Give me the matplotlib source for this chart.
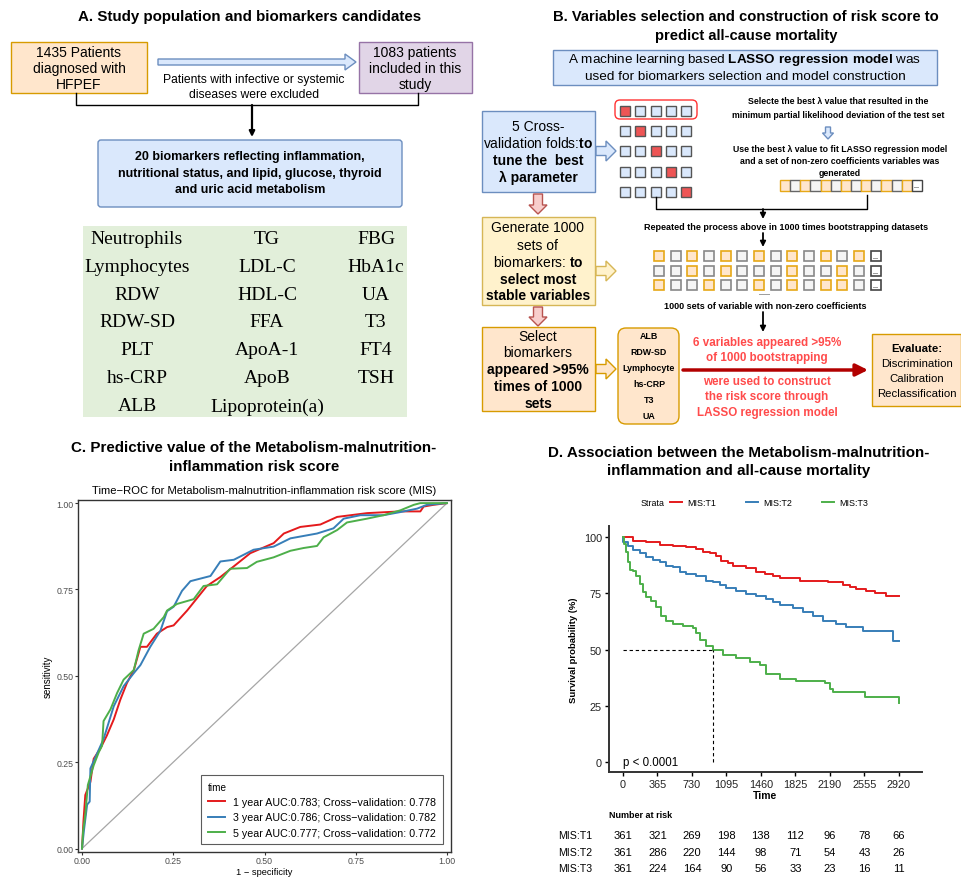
import numpy as np
import matplotlib
matplotlib.use('Agg')
import matplotlib.pyplot as plt
from matplotlib.patches import Rectangle, FancyBboxPatch, FancyArrow
from matplotlib import transforms

plt.rcParams['font.family'] = ['Liberation Sans', 'DejaVu Sans']
plt.rcParams['mathtext.fontset'] = 'custom'
plt.rcParams['mathtext.rm'] = 'Liberation Sans'
plt.rcParams['mathtext.bf'] = 'Liberation Sans:bold'

# ---------------- data ----------------
# panel A: candidate biomarkers, one list per table column
markers_col1 = ['Neutrophils', 'Lymphocytes', 'RDW', 'RDW-SD', 'PLT', 'hs-CRP', 'ALB']
markers_col2 = ['TG', 'LDL-C', 'HDL-C', 'FFA', 'ApoA-1', 'ApoB', 'Lipoprotein(a)']
markers_col3 = ['FBG', 'HbA1c', 'UA', 'T3', 'FT4', 'TSH']

# panel B: selected variables and the illustrative coefficient sets (1 = non-zero)
selected = ['ALB', 'RDW-SD', 'Lymphocyte', 'hs-CRP', 'T3', 'UA']
nonzero_set = [1, 0, 1, 0, 1, 0, 1, 0, 1, 0, 1, 0, 1]
boot_set1 = [1, 0, 1, 0, 1, 0, 1, 0, 1, 0, 1, 0, 1]
boot_set2 = [0, 0, 1, 0, 1, 0, 0, 0, 1, 0, 0, 1, 0]
boot_set3 = [1, 0, 0, 1, 0, 0, 1, 0, 1, 0, 1, 1, 0]

# panel C: time-dependent ROC curves
roc_labels = ['1 year AUC:0.783; Cross\u2212validation: 0.778',
              '3 year AUC:0.786; Cross\u2212validation: 0.782',
              '5 year AUC:0.777; Cross\u2212validation: 0.772']
fpr_1y = [0, 0.004, 0.009, 0.023, 0.032, 0.05, 0.068, 0.087, 0.105, 0.123, 0.142, 0.16, 0.178,
          0.205, 0.233, 0.251, 0.288, 0.342, 0.379, 0.416, 0.461, 0.525, 0.553, 0.598, 0.653,
          0.699, 0.781, 0.872, 0.927, 0.936, 0.963, 1.0]
tpr_1y = [0, 0.08, 0.155, 0.193, 0.26, 0.289, 0.327, 0.374, 0.431, 0.479, 0.517, 0.584, 0.584,
          0.622, 0.641, 0.646, 0.689, 0.76, 0.786, 0.817, 0.855, 0.884, 0.912, 0.931, 0.938,
          0.96, 0.971, 0.976, 0.976, 0.99, 0.995, 1.0]
fpr_3y = [0, 0.005, 0.014, 0.021, 0.023, 0.037, 0.059, 0.087, 0.114, 0.142, 0.16, 0.187, 0.215,
          0.233, 0.251, 0.274, 0.297, 0.352, 0.379, 0.416, 0.47, 0.525, 0.571, 0.644, 0.689,
          0.717, 0.763, 0.826, 0.872, 0.918, 0.945, 1.0]
tpr_3y = [0, 0.05, 0.127, 0.136, 0.232, 0.265, 0.317, 0.412, 0.47, 0.508, 0.531, 0.584, 0.631,
          0.687, 0.70, 0.746, 0.774, 0.789, 0.831, 0.836, 0.865, 0.874, 0.898, 0.912, 0.927,
          0.955, 0.965, 0.965, 0.974, 0.984, 0.995, 1.0]
fpr_5y = [0, 0.003, 0.009, 0.016, 0.032, 0.046, 0.055, 0.059, 0.078, 0.096, 0.114, 0.142, 0.155,
          0.169, 0.196, 0.224, 0.233, 0.26, 0.306, 0.333, 0.37, 0.406, 0.452, 0.479, 0.525,
          0.571, 0.607, 0.644, 0.662, 0.699, 0.726, 0.781, 0.826, 0.872, 0.909, 0.927, 1.0]
tpr_5y = [0, 0.05, 0.098, 0.184, 0.241, 0.279, 0.298, 0.369, 0.403, 0.45, 0.489, 0.517, 0.574,
          0.622, 0.636, 0.67, 0.689, 0.708, 0.722, 0.76, 0.765, 0.81, 0.812, 0.83, 0.843,
          0.862, 0.87, 0.876, 0.901, 0.922, 0.944, 0.955, 0.965, 0.979, 0.995, 1.0, 1.0]

# panel D: Kaplan-Meier curves (days, survival %)
km_labels = ['MIS:T1', 'MIS:T2', 'MIS:T3']
t1_time = [0, 106, 247, 388, 529, 670, 776, 847, 917, 988, 1041, 1111, 1164, 1305, 1411, 1499,
           1587, 1658, 1869, 2169, 2328, 2398, 2469, 2575, 2663, 2786, 2920]
t1_surv = [100, 98.5, 97.8, 96.7, 96.0, 95.5, 94.8, 93.6, 93.0, 91.5, 89.6, 88.6, 87.4, 86.2,
           84.7, 83.7, 82.6, 81.9, 80.7, 79.9, 78.9, 77.7, 77.0, 75.9, 75.0, 74.0, 73.8]
t2_time = [0, 5, 53, 106, 176, 247, 317, 388, 459, 529, 600, 670, 776, 882, 952, 1023, 1093,
           1199, 1305, 1411, 1517, 1587, 1658, 1799, 1905, 2010, 2116, 2257, 2363, 2539, 2857,
           2920]
t2_surv = [100, 97.8, 96.0, 94.5, 93.0, 91.1, 90.0, 88.9, 87.4, 86.6, 84.7, 83.5, 82.6, 80.7,
           79.9, 78.8, 77.3, 75.9, 74.7, 74.0, 72.5, 71.0, 70.0, 68.5, 66.6, 65.1, 62.9, 61.4,
           60.2, 58.1, 53.6, 53.6]
t3_time = [0, 7, 28, 53, 78, 106, 141, 176, 212, 247, 300, 353, 406, 459, 529, 635, 741, 776,
           811, 882, 952, 1058, 1199, 1340, 1446, 1517, 1658, 1834, 2134, 2187, 2222, 2557,
           2910, 2920]
t3_surv = [100, 97.0, 93.3, 88.9, 85.6, 85.1, 82.9, 79.2, 75.5, 73.3, 71.8, 68.8, 65.1, 62.9,
           61.4, 60.3, 59.4, 57.4, 54.4, 51.7, 49.9, 47.7, 46.1, 44.3, 43.1, 39.1, 37.1, 35.8,
           35.1, 32.4, 30.9, 29.0, 29.0, 26.4]
risk_times = [0, 365, 730, 1095, 1460, 1825, 2190, 2555, 2920]
risk_t1 = [361, 321, 269, 198, 138, 112, 96, 78, 66]
risk_t2 = [361, 286, 220, 144, 98, 71, 54, 43, 26]
risk_t3 = [361, 224, 164, 90, 56, 33, 23, 16, 11]

# ---------------- colours ----------------
BLUE_FC, BLUE_EC = '#DAE8FC', '#6C8EBF'
ORA_FC, ORA_EC = '#FFE6CC', '#D79B00'
YEL_FC, YEL_EC = '#FFF2CC', '#D6B656'
PUR_FC, PUR_EC = '#E1D5E7', '#9673A6'
PINK_FC, PINK_EC = '#F8CECC', '#B85450'
RED_TXT = '#FF4B4B'
set1 = ['#E41A1C', '#377EB8', '#4DAF4A']

fig = plt.figure(figsize=(9.62, 8.79), dpi=100)

# background axes in pixel units for the two diagrams
bg = fig.add_axes([0, 0, 1, 1])
bg.set_xlim(0, 962)
bg.set_ylim(879, 0)
bg.axis('off')


def box(x0, y0, x1, y1, fc, ec, rounding=0, lw=1.0):
    if rounding:
        p = FancyBboxPatch((x0, y0), x1 - x0, y1 - y0,
                           boxstyle='round,pad=0,rounding_size=%g' % rounding,
                           fc=fc, ec=ec, lw=lw)
    else:
        p = Rectangle((x0, y0), x1 - x0, y1 - y0, fc=fc, ec=ec, lw=lw)
    bg.add_patch(p)


def lines(x, ys, texts, size, bold=None, color='black', **kw):
    for i, (y, t) in enumerate(zip(ys, texts)):
        w = 'bold' if (bold is not None and bold[i]) else 'normal'
        bg.text(x, y, t, ha='center', va='center', fontsize=size, fontweight=w, color=color, **kw)


def hollow(x, y, dx, dy, fc, ec, w=9, hw=20, hl=10):
    bg.add_patch(FancyArrow(x, y, dx, dy, width=w, head_width=hw, head_length=hl,
                            length_includes_head=True, fc=fc, ec=ec, lw=1))


def arrow(x0, y0, x1, y1, color='black', lw=1.3, ms=8):
    bg.annotate('', xy=(x1, y1), xytext=(x0, y0),
                arrowprops=dict(arrowstyle='-|>', color=color, lw=lw, mutation_scale=ms,
                                shrinkA=0, shrinkB=0))


# ================= Panel A =================
bg.text(250, 17, 'A. Study population and biomarkers candidates', ha='center', va='center',
        fontsize=10.9, fontweight='bold')
box(11, 43, 147, 94, ORA_FC, ORA_EC)
lines(79, [53, 69, 85], ['1435 Patients', 'diagnosed with', 'HFPEF'], 10)
box(359, 43, 472, 94, PUR_FC, PUR_EC)
lines(415, [53, 69, 85], ['1083 patients', 'included in this', 'study'], 10)
hollow(158, 63, 198, 0, BLUE_FC, BLUE_EC, w=6, hw=16, hl=11)
lines(254, [80, 95], ['Patients with infective or systemic', 'diseases were excluded'], 8.7)
bg.plot([76, 76, 418, 418], [94, 106, 106, 94], color='black', lw=1)
arrow(252, 106, 252, 138, lw=1.6)
box(98, 141, 402, 208, BLUE_FC, BLUE_EC, rounding=3)
lines(250, [157, 174, 190],
      ['20 biomarkers reflecting inflammation,',
       'nutritional status, and lipid, glucose, thyroid',
       'and uric acid metabolism'], 9, bold=[1, 1, 1])

box(83, 227, 407, 418, '#E2EFDA', 'none')
row_y = [240, 268, 296, 323, 351, 379, 407]
for cx, col in zip([137, 267, 376], [markers_col1, markers_col2, markers_col3]):
    for y, name in zip(row_y, col):
        bg.text(cx, y, name, ha='center', va='center', fontsize=14,
                family=['Liberation Serif', 'DejaVu Serif'])

# ================= Panel B =================
lines(746, [17, 36], ['B. Variables selection and construction of risk score to',
                      'predict all-cause mortality'], 10.6, bold=[1, 1])
box(553, 51, 937, 86, BLUE_FC, BLUE_EC)
lines(745, [60, 77], [r'A machine learning based $\mathbf{LASSO\ regression\ model}$ was',
                      'used for biomarkers selection and model construction'], 9.7)

# left column of boxes
box(482, 112, 595, 193, BLUE_FC, BLUE_EC)
lines(538, [127, 144, 161, 178],
      ['5 Cross-', r'validation folds:$\mathbf{to}$', 'tune the  best', '\u03bb parameter'],
      10, bold=[0, 0, 1, 1])
hollow(538, 195, 0, 20, PINK_FC, PINK_EC, w=9, hw=18, hl=9)
box(482, 218, 595, 306, YEL_FC, YEL_EC)
lines(538, [228, 246, 263, 280, 296],
      ['Generate 1000', 'sets of', r'biomarkers: $\mathbf{to}$', 'select most', 'stable variables'],
      10, bold=[0, 0, 0, 1, 1])
hollow(538, 308, 0, 19, PINK_FC, PINK_EC, w=9, hw=18, hl=9)
box(482, 328, 595, 412, ORA_FC, ORA_EC)
lines(538, [337, 353, 370, 387, 404],
      ['Select', 'biomarkers', 'appeared >95%', 'times of 1000', 'sets'],
      10, bold=[0, 0, 1, 1, 1])
hollow(596, 152, 20, 0, BLUE_FC, BLUE_EC)
hollow(596, 272, 20, 0, YEL_FC, YEL_EC)
hollow(596, 370, 20, 0, ORA_FC, ORA_EC)

# cross-validation fold grid
box(615, 101, 697, 120, 'none', '#FF3333', rounding=5)
for r in range(5):
    for c in range(5):
        fc = '#EE5555' if r == c else BLUE_FC
        box(620 + 15.3 * c, 107 + 20.2 * r, 630 + 15.3 * c, 117 + 20.2 * r, fc, '#555555')

lines(838, [102, 115], ['Selecte the best \u03bb value that resulted in the',
                        'minimum partial likelihood deviation of the test set'], 6.3,
      bold=[1, 1])
hollow(828, 128, 0, 12, BLUE_FC, BLUE_EC, w=5, hw=11, hl=6)
lines(840, [149, 162, 174], ['Use the best \u03bb value to fit LASSO regression model',
                             'and a set of non-zero coefficients variables was',
                             'generated'], 6.3, bold=[1, 1, 1])

for i, v in enumerate(nonzero_set):
    fc, ec = (ORA_FC, '#E6A817') if v else ('#F5F5F5', '#666666')
    box(780 + 10.15 * i, 181, 790.15 + 10.15 * i, 192, fc, ec)
box(780 + 10.15 * 13, 181, 790.15 + 10.15 * 13, 192, 'white', '#444444')
bg.text(785 + 10.15 * 13, 187, '...', ha='center', va='center', fontsize=5, fontweight='bold')

bg.plot([656, 656, 867, 867], [198, 210, 210, 196], color='black', lw=1)
arrow(763, 210, 763, 220)
lines(786, [228], ['Repeated the process above in 1000 times bootstrapping datasets'], 6.5,
      bold=[1])
arrow(763, 234, 763, 248)

for r, pattern in enumerate([boot_set1, boot_set2, boot_set3]):
    y0 = 252 + 14.5 * r
    for i, v in enumerate(pattern):
        fc, ec = (ORA_FC, '#E6A817') if v else ('#F5F5F5', '#888888')
        box(654 + 16.67 * i, y0, 664 + 16.67 * i, y0 + 10, fc, ec, lw=1.2)
    xe = 654 + 16.67 * 13
    box(xe, y0, xe + 10, y0 + 10, 'white', '#444444', lw=1.2)
    bg.text(xe + 5, y0 + 6, '...', ha='center', va='center', fontsize=5, fontweight='bold')
bg.text(765, 294, '......', ha='center', va='center', fontsize=5, fontweight='bold')
lines(765, [307], ['1000 sets of variable with non-zero coefficients'], 6.5, bold=[1])
arrow(763, 313, 763, 333)

box(618, 329, 679, 425, ORA_FC, ORA_EC, rounding=8)
lines(649, [337, 353, 369, 385, 401, 417], selected, 6.4, bold=[1] * 6)

arrow(683, 371, 868, 371, color='#B20000', lw=2.5, ms=18)
lines(767, [343, 358], ['6 variables appeared >95%', 'of 1000 bootstrapping'], 8.4,
      bold=[1, 1], color=RED_TXT)
lines(767, [382, 397, 413], ['were used to construct', 'the risk score through',
                             'LASSO regression model'], 8.4, bold=[1, 1, 1], color=RED_TXT)

box(872, 335, 961, 407, ORA_FC, ORA_EC)
lines(917, [349, 364, 379, 394], ['Evaluate:', 'Discrimination', 'Calibration',
                                  'Reclassification'], 8.2, bold=[1, 0, 0, 0])

# ================= Panel C =================
lines(254, [448, 467], ['C. Predictive value of the Metabolism-malnutrition-',
                        'inflammation risk score'], 10.9, bold=[1, 1])
c_top, c_bot = 501, 853
axC = fig.add_axes([78 / 962, 1 - c_bot / 879, (451 - 78) / 962, (c_bot - c_top) / 879])
axC.set_title('Time\u2212ROC for Metabolism-malnutrition-inflammation risk score (MIS)',
              fontsize=8.1, pad=5)
axC.plot([0, 1], [0, 1], color='#A6A6A6', lw=0.9)
for fpr, tpr, col, lab in zip([fpr_1y, fpr_3y, fpr_5y], [tpr_1y, tpr_3y, tpr_5y], set1, roc_labels):
    axC.plot(fpr, tpr, color=col, lw=1.4, label=lab)
axC.set_xlim(-0.011, 1.011)
axC.set_ylim(-0.01, 1.009)
ticks = [0, 0.25, 0.5, 0.75, 1.0]
axC.set_xticks(ticks)
axC.set_yticks(ticks)
axC.set_xticklabels(['%.2f' % t for t in ticks])
axC.set_yticklabels(['%.2f' % t for t in ticks])
axC.tick_params(labelsize=6.3, labelcolor='#4D4D4D', color='#333333', length=2, pad=1)
for s in axC.spines.values():
    s.set_color('#333333')
    s.set_linewidth(1)
axC.set_xlabel('1 \u2212 specificity', fontsize=6.7)
# keep the x label just inside the bottom edge of the figure
axC.xaxis.set_label_coords(0.5, (c_bot - 868) / (c_bot - c_top))
axC.set_ylabel('sensitivity', fontsize=7, labelpad=3)
legC = axC.legend(title='time', loc='lower right', bbox_to_anchor=(0.978, 0.022),
                  borderaxespad=0, fontsize=7.7, title_fontsize=7.2, fancybox=False,
                  edgecolor='#333333', handlelength=1.6, alignment='left', borderpad=0.6)
legC.get_frame().set_linewidth(0.8)

# ================= Panel D =================
lines(739, [453, 471], ['D. Association between the Metabolism-malnutrition-',
                        'inflammation and all-cause mortality'], 10.9, bold=[1, 1])
axD = fig.add_axes([609 / 962, 1 - 773 / 879, (922 - 609) / 962, (773 - 527) / 879])
km_lines = []
for tt, ss, col in zip([t1_time, t2_time, t3_time], [t1_surv, t2_surv, t3_surv], set1):
    ln, = axD.step(tt, ss, where='post', color=col, lw=1.4)
    km_lines.append(ln)
t3_arr, s3_arr = np.array(t3_time), np.array(t3_surv)
median_t3 = t3_arr[np.argmax(s3_arr <= 50)]
axD.plot([0, median_t3], [50, 50], color='black', ls=(0, (3, 2.5)), lw=0.8)
axD.plot([median_t3, median_t3], [0, 50], color='black', ls=(0, (3, 2.5)), lw=0.8)
axD.text(0, 0, 'p < 0.0001', ha='left', va='center', fontsize=8.3)
axD.set_xlim(-148, 3164)
axD.set_ylim(-4.5, 105)
axD.set_xticks(risk_times)
axD.set_yticks([0, 25, 50, 75, 100])
axD.tick_params(labelsize=7.8, labelcolor='#222222', length=3, width=1, pad=2)
for side in ['top', 'right']:
    axD.spines[side].set_visible(False)
for side in ['left', 'bottom']:
    axD.spines[side].set_linewidth(1.4)
    axD.spines[side].set_color('#333333')
axD.set_xlabel('Time', fontsize=7.5, fontweight='bold', labelpad=1)
axD.set_ylabel('Survival probability (%)', fontsize=6.8, fontweight='bold', labelpad=4)

bg.text(641, 504, 'Strata', ha='left', va='center', fontsize=6.4)
axD.legend(km_lines, km_labels, ncol=3, loc='center left', bbox_to_anchor=(670 / 962, 1 - 504 / 879),
           bbox_transform=fig.transFigure, frameon=False, fontsize=6.4, handlelength=1.3,
           handletextpad=0.6, columnspacing=3.4, borderpad=0, borderaxespad=0)

# risk table
bg.text(609, 816, 'Number at risk', ha='left', va='center', fontsize=6.5, fontweight='bold')
mix = transforms.blended_transform_factory(axD.transData, bg.transData)
for y, lab, counts in zip([836, 853, 869], km_labels, [risk_t1, risk_t2, risk_t3]):
    bg.text(558, y, lab, ha='left', va='center', fontsize=7.6)
    for t, n in zip(risk_times, counts):
        bg.text(t, y, str(n), ha='center', va='center', fontsize=8, transform=mix)

fig.savefig('out.png', dpi=100)
